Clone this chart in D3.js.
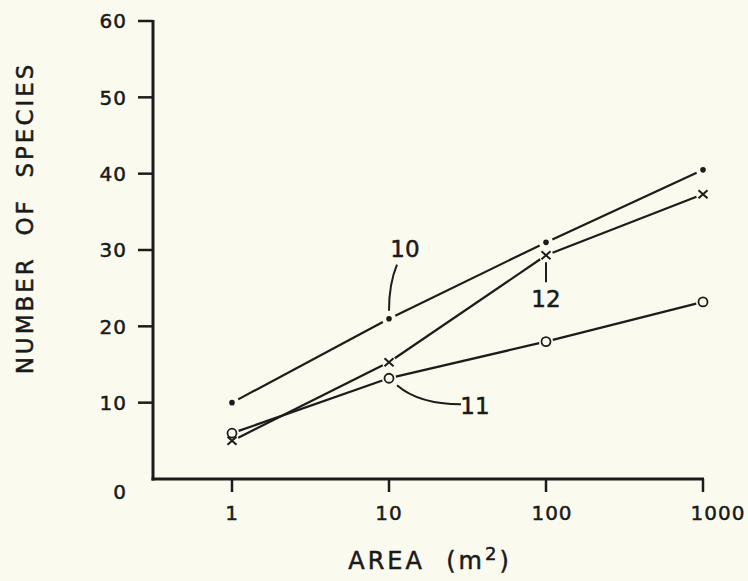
<!DOCTYPE html>
<html>
<head>
<meta charset="utf-8">
<script src="https://cdn.jsdelivr.net/npm/d3@7"></script>
<style>
  body { margin: 0; background: #fafaee; }
  svg { display: block; }
  text { font-family: "DejaVu Sans", sans-serif; fill: #1a1a1a; stroke: #1a1a1a; stroke-width: 0.5px; }
</style>
</head>
<body>
<div id="chart"></div>
<script>
// Data
const areas = [1, 10, 100, 1000];
const xTickLabels = ["1", "10", "100", "1000"];
const yTicks = [0, 10, 20, 30, 40, 50, 60];
const plot10 = [10, 21, 31, 40.5];   // dots
const plot12 = [5, 15.3, 29.3, 37.3]; // crosses
const plot11 = [6, 13.2, 18, 23.2];  // open circles

const W = 748, H = 581;
const ink = "#1c1c1c";

const svg = d3.select("#chart").append("svg")
    .attr("width", W).attr("height", H);

svg.append("rect").attr("width", W).attr("height", H).attr("fill", "#fafaee");

// scales
const x = d3.scaleLog().domain([1, 1000]).range([232, 703]);
const y = d3.scaleLinear().domain([0, 60]).range([479, 21]);
const axisLeftX = 153;

// axis lines
svg.append("line")
   .attr("x1", axisLeftX).attr("x2", axisLeftX)
   .attr("y1", y(60) - 1).attr("y2", y(0) + 1.5)
   .attr("stroke", ink).attr("stroke-width", 3);
svg.append("line")
   .attr("x1", axisLeftX - 1.5).attr("x2", x(1000) + 1)
   .attr("y1", y(0)).attr("y2", y(0))
   .attr("stroke", ink).attr("stroke-width", 3);

// y ticks (no tick at 0, the x axis sits there)
svg.selectAll(".ytick")
   .data(yTicks.filter(d => d > 0))
   .enter().append("line")
   .attr("x1", axisLeftX - 15).attr("x2", axisLeftX)
   .attr("y1", d => y(d)).attr("y2", d => y(d))
   .attr("stroke", ink).attr("stroke-width", 2.5);

svg.selectAll(".ylab")
   .data(yTicks)
   .enter().append("text")
   .attr("x", 127)
   .attr("y", d => y(d) + (d === 0 ? 13 : 0))
   .attr("dy", "0.36em")
   .attr("text-anchor", "end")
   .style("font-size", "20px")
   .style("letter-spacing", "1px")
   .text(d => d);

// x ticks
svg.selectAll(".xtick")
   .data(areas)
   .enter().append("line")
   .attr("x1", d => x(d)).attr("x2", d => x(d))
   .attr("y1", y(0)).attr("y2", y(0) + 13)
   .attr("stroke", ink).attr("stroke-width", 2.5);

const labelShift = [0, 0, 6, 15];
svg.selectAll(".xlab")
   .data(areas)
   .enter().append("text")
   .attr("x", (d, i) => x(d) + labelShift[i])
   .attr("y", 513)
   .attr("dy", "0.36em")
   .attr("text-anchor", "middle")
   .style("font-size", "20px")
   .style("letter-spacing", "1px")
   .text((d, i) => xTickLabels[i]);

// axis titles
const xTitle = svg.append("text")
   .attr("x", 430).attr("y", 569)
   .attr("text-anchor", "middle")
   .style("font-size", "24px")
   .style("letter-spacing", "3px");
xTitle.append("tspan").text("AREA\u00a0\u00a0(m");
xTitle.append("tspan").attr("dy", -9).style("font-size", "18px").text("2");
xTitle.append("tspan").attr("dy", 9).text(")");

svg.append("text")
   .attr("transform", "translate(33,218) rotate(-90)")
   .attr("text-anchor", "middle")
   .style("font-size", "23px")
   .style("letter-spacing", "3px")
   .text("NUMBER\u00a0\u00a0OF\u00a0\u00a0SPECIES");

// lines with small gaps at the markers
const gap = 7;
function drawSeries(vals) {
  const pts = areas.map((a, i) => [x(a), y(vals[i])]);
  for (let i = 0; i < pts.length - 1; i++) {
    const [x1, y1] = pts[i], [x2, y2] = pts[i + 1];
    const len = Math.hypot(x2 - x1, y2 - y1);
    const ux = (x2 - x1) / len, uy = (y2 - y1) / len;
    svg.append("line")
       .attr("x1", x1 + ux * gap).attr("y1", y1 + uy * gap)
       .attr("x2", x2 - ux * gap).attr("y2", y2 - uy * gap)
       .attr("stroke", ink).attr("stroke-width", 2.2);
  }
  return pts;
}

drawSeries(plot10);
drawSeries(plot12);
drawSeries(plot11);

// markers
svg.selectAll(".dot10")
   .data(plot10)
   .enter().append("circle")
   .attr("cx", (d, i) => x(areas[i])).attr("cy", d => y(d))
   .attr("r", 2.8).attr("fill", ink);

svg.selectAll(".cross12")
   .data(plot12)
   .enter().append("path")
   .attr("transform", (d, i) => `translate(${x(areas[i])},${y(d)})`)
   .attr("d", "M-4.5,-4 L4.5,4 M-4.5,4 L4.5,-4")
   .attr("stroke", ink).attr("stroke-width", 2).attr("fill", "none");

svg.selectAll(".circ11")
   .data(plot11)
   .enter().append("circle")
   .attr("cx", (d, i) => x(areas[i])).attr("cy", d => y(d))
   .attr("r", 4.5).attr("fill", "none")
   .attr("stroke", ink).attr("stroke-width", 1.8);

// curve labels
const lab = (tx, ty, t) => svg.append("text")
   .attr("x", tx).attr("y", ty).attr("dy", "0.36em")
   .attr("text-anchor", "middle")
   .style("font-size", "23px")
   .text(t);

// "10" on the dotted series at area 10
const p10x = x(10), p10y = y(plot10[1]);
svg.append("path")
   .attr("d", `M${p10x},${p10y - 8} Q${p10x},${p10y - 35} ${p10x + 8},${p10y - 54}`)
   .attr("fill", "none").attr("stroke", ink).attr("stroke-width", 2);
lab(p10x + 16, p10y - 70, "10");

// "12" under the cross at area 100
const p12x = x(100), p12y = y(plot12[2]);
svg.append("line")
   .attr("x1", p12x).attr("x2", p12x)
   .attr("y1", p12y + 7).attr("y2", p12y + 27)
   .attr("stroke", ink).attr("stroke-width", 2);
lab(p12x, p12y + 43, "12");

// "11" on the open-circle series at area 10
const p11x = x(10), p11y = y(plot11[1]);
svg.append("path")
   .attr("d", `M${p11x + 8},${p11y + 7} Q${p11x + 30},${p11y + 26} ${p11x + 72},${p11y + 26}`)
   .attr("fill", "none").attr("stroke", ink).attr("stroke-width", 2);
lab(p11x + 86, p11y + 27, "11");
</script>
</body>
</html>
